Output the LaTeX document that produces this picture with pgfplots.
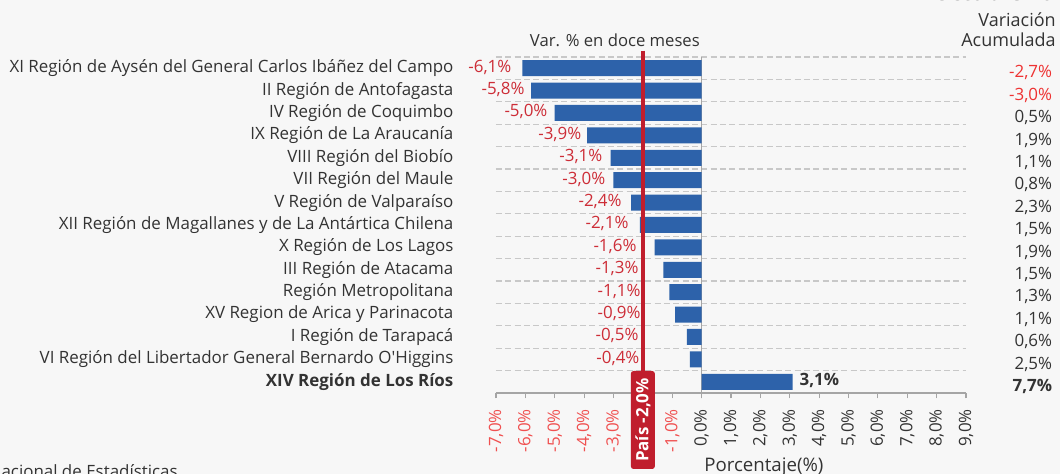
\documentclass[border=0pt]{standalone}
\usepackage{fontspec}
\setmainfont{Open Sans}
\usepackage{pgfplots}
\usepackage{pgfplotstable}
\pgfplotsset{compat=1.18}

\definecolor{bgc}{RGB}{247,247,247}
\definecolor{txt}{RGB}{51,51,51}
\definecolor{lblred}{RGB}{205,45,55}
\definecolor{accred}{RGB}{238,50,50}
\definecolor{tickred}{RGB}{240,80,80}
\definecolor{barc}{RGB}{45,98,170}
\definecolor{redline}{RGB}{192,30,45}
\definecolor{gridc}{RGB}{200,200,200}
\definecolor{axisgray}{RGB}{165,165,165}

\newcommand\xtl[1]{#1\hspace*{8pt}}
\newcommand\xtr[1]{{\color{tickred}#1}\hspace*{8pt}}

% y: row position (0 = bottom), v: var. 12 meses, lx: right edge of its label
% a: variacion acumulada, b: bold row
\pgfplotstableread{
y  v    lx    a    b
14 -6.1 -6.47 -2.7 0
13 -5.8 -6.02 -3.0 0
12 -5.0 -5.24 0.5  0
11 -3.9 -4.09 1.9  0
10 -3.1 -3.37 1.1  0
9  -3.0 -3.27 0.8  0
8  -2.4 -2.72 2.3  0
7  -2.1 -2.48 1.5  0
6  -1.6 -2.21 1.9  0
5  -1.3 -2.14 1.5  0
4  -1.1 -2.07 1.3  0
3  -0.9 -2.07 1.1  0
2  -0.5 -2.14 0.6  0
1  -0.4 -2.11 2.5  0
0  3.1  4.69  7.7  1
}\data

\begin{document}
\begin{tikzpicture}
\fill[bgc] (-372pt,-60.75pt) rectangle (423pt,294.75pt);
\useasboundingbox (-372pt,-60.75pt) rectangle (423pt,294.75pt);
\begin{axis}[
  at={(0pt,0pt)}, anchor=south west,
  scale only axis, width=352.5pt, height=252pt,
  xmin=-7, xmax=9, ymin=-0.5, ymax=14.5,
  clip=false,
  /pgf/number format/assume math mode=true,
  axis x line*=bottom, axis y line*=left,
  x axis line style={draw=axisgray, line width=0.9pt},
  y axis line style={draw=none},
  tick align=outside,
  major tick length=4pt,
  xtick style={draw=axisgray, line width=0.9pt},
  ytick style={draw=none},
  minor tick length=0pt,
  xtick={-7,-6,-5,-4,-3,-2,-1,0,1,2,3,4,5,6,7,8,9},
  xticklabels={{\xtr{-7,0\%}},{\xtr{-6,0\%}},{\xtr{-5,0\%}},{\xtr{-4,0\%}},{\xtr{-3,0\%}},{},{\xtr{-1,0\%}},{\xtl{0,0\%}},{\xtl{1,0\%}},{\xtl{2,0\%}},{\xtl{3,0\%}},{\xtl{4,0\%}},{\xtl{5,0\%}},{\xtl{6,0\%}},{\xtl{7,0\%}},{\xtl{8,0\%}},{\xtl{9,0\%}}},
  xticklabel style={rotate=90, anchor=east, inner sep=0pt, text=txt, font=\fontsize{12.7}{15}\selectfont},
  ytick={0,...,14},
  yticklabels={
    {\textbf{XIV Región de Los Ríos}},
    {VI Región del Libertador General Bernardo O\textquotesingle Higgins},
    {I Región de Tarapacá},
    {XV Region de Arica y Parinacota},
    {Región Metropolitana},
    {III Región de Atacama},
    {X Región de Los Lagos},
    {XII Región de Magallanes y de La Antártica Chilena},
    {V Región de Valparaíso},
    {VII Región del Maule},
    {VIII Región del Biobío},
    {IX Región de La Araucanía},
    {IV Región de Coquimbo},
    {II Región de Antofagasta},
    {XI Región de Aysén del General Carlos Ibáñez del Campo}},
  yticklabel style={anchor=east, inner sep=0pt, text=txt, font=\fontsize{12.7}{15}\selectfont},
  yticklabel shift=27.75pt,
  minor ytick={0.5,1.5,...,14.5},
  yminorgrids,
  minor grid style={draw=gridc, line width=0.8pt, dash pattern=on 4.5pt off 2.5pt},
  extra x ticks={0},
  extra x tick labels={},
  extra x tick style={grid=major, major grid style={draw=axisgray, line width=1.1pt}, tick style={draw=none}},
  xlabel={Porcentaje(\%)},
  every axis x label/.style={at={(axis description cs:0.57,0)}, anchor=base, yshift=-59pt, text=txt, font=\fontsize{14}{17}\selectfont},
]
% bars
\addplot[xbar, bar width=12pt, draw=none, fill=barc]
  table[x=v, y=y] {\data};

% labels of the bars
\addplot[draw=none, mark=none,
  visualization depends on={\thisrow{v}\as\val},
  visualization depends on={\thisrow{b}\as\bfv},
  nodes near coords={\pgfmathparse{\bfv>0.5}\ifdim\pgfmathresult pt>0.5pt\bfseries\color{txt}\else\color{lblred}\fi\pgfmathprintnumber[fixed,fixed zerofill,precision=1,use comma]{\val}\%},
  every node near coord/.append style={anchor=east, inner sep=0pt, yshift=0.8pt, font=\fontsize{12.7}{15}\selectfont}]
  table[x=lx, y=y] {\data};

% variacion acumulada column
\addplot[draw=none, mark=none,
  visualization depends on={\thisrow{a}\as\val},
  visualization depends on={\thisrow{b}\as\bfv},
  nodes near coords={\pgfmathparse{\bfv>0.5}\ifdim\pgfmathresult pt>0.5pt\bfseries\fi\pgfmathparse{\val<0}\ifdim\pgfmathresult pt>0.5pt\color{accred}\else\color{txt}\fi\pgfmathprintnumber[fixed,fixed zerofill,precision=1,use comma]{\val}\%},
  every node near coord/.append style={anchor=east, inner sep=0pt, yshift=-3.5pt, font=\fontsize{12.7}{15}\selectfont}]
  table[x expr=11.94, y=y] {\data};

% country line
\draw[redline, line width=2.6pt] (axis cs:-2,14.78) -- (axis cs:-2,-0.8);
\node[fill=redline, rounded corners=2pt, rotate=90, minimum width=73.5pt, minimum height=18pt, inner sep=0pt, text=white, font=\fontsize{12.7}{15}\selectfont\bfseries] at (axis cs:-2,-1.705) {País -2,0\%};

\node[anchor=base, text=txt, inner sep=0pt, yshift=7.7pt, font=\fontsize{12.5}{15}\selectfont] at (axis description cs:0.253,1) {Var. \% en doce meses};
\end{axis}

\node[anchor=base east, inner sep=0pt, text=txt, font=\fontsize{13.5}{16}\selectfont] at (420pt,274.7pt) {Variación};
\node[anchor=base east, inner sep=0pt, text=txt, font=\fontsize{13.5}{16}\selectfont] at (420pt,259.7pt) {Acumulada};
\node[anchor=base west, inner sep=0pt, text=txt, font=\fontsize{16.5}{20}\selectfont\bfseries] at (327.75pt,294.3pt) {Octubre 2016};
\node[anchor=base east, inner sep=0pt, text=txt, font=\fontsize{12.7}{15}\selectfont] at (-238.5pt,-63.75pt) {Fuente: Instituto Nacional de Estadísticas};
\end{tikzpicture}
\end{document}
